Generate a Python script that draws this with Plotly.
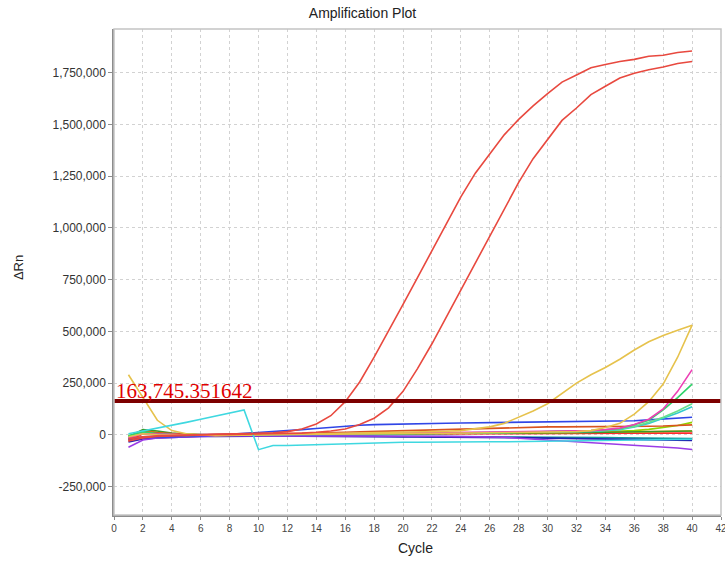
import plotly.graph_objects as go

cycles = list(range(1, 41))

red_a = [-20000, -10000, -5000, -3000, 0, 2000, 3000, 5000, 6000, 7000, 9000, 15000, 28000, 52000, 92000,
         160000, 255000, 375000, 500000, 630000, 760000, 890000, 1015000, 1150000, 1265000, 1360000, 1450000,
         1525000, 1590000, 1650000, 1705000, 1740000, 1775000, 1790000, 1805000, 1815000, 1830000, 1835000,
         1848000, 1856000]
red_b = [-30000, -15000, -8000, -5000, -3000, 0, 1000, 2000, 3000, 4000, 5000, 6000, 8000, 12000, 18000,
         28000, 50000, 80000, 130000, 210000, 320000, 440000, 570000, 700000, 830000, 960000, 1090000,
         1220000, 1335000, 1430000, 1520000, 1580000, 1645000, 1685000, 1725000, 1748000, 1765000, 1778000,
         1795000, 1805000]
yellow_a = [290000, 180000, 70000, 20000, 5000, 0, -4000, -3000, -1000, 1000, 2000, 3000, 4000, 5000, 6000,
            7000, 8000, 9000, 10000, 11000, 13000, 15000, 17000, 20000, 28000, 38000, 55000, 85000, 115000,
            150000, 200000, 250000, 290000, 325000, 365000, 410000, 450000, 480000, 505000, 530000]
yellow_b = [-10000, 5000, 0, -2000, -3000, -2000, -1000, 0, 0, 1000, 1000, 2000, 2000, 3000, 3000, 4000,
            4000, 5000, 5000, 6000, 6000, 7000, 7000, 8000, 8000, 9000, 9000, 10000, 10000, 11000, 12000,
            15000, 20000, 35000, 55000, 100000, 160000, 245000, 375000, 530000]
cyan = [5000, 18000, 32000, 45000, 60000, 75000, 90000, 105000, 120000, -72000, -52000, -52000, -50000,
        -48000, -45000, -42000, -40000, -38000, -37000, -36000, -36000, -35000, -35000, -35000, -34000,
        -34000, -34000, -33000, -33000, -33000, -32000, -31000, -30000, -29000, -28000, -27000, -26000,
        -24000, -23000, -22000]
pink = [-15000, 5000, 3000, 0, 0, 1000, 2000, 2000, 3000, 3000, 4000, 4000, 5000, 5000, 6000, 6000, 7000,
        7000, 8000, 8000, 9000, 9000, 10000, 10000, 11000, 11000, 12000, 12000, 13000, 14000, 15000, 17000,
        20000, 25000, 32000, 50000, 75000, 125000, 210000, 315000]
green_a = [-5000, 15000, 5000, 0, 0, 0, 1000, 1000, 2000, 2000, 3000, 3000, 4000, 4000, 5000, 5000, 6000,
           6000, 7000, 7000, 8000, 8000, 9000, 9000, 10000, 10000, 11000, 12000, 13000, 14000, 15000, 17000,
           20000, 24000, 30000, 48000, 70000, 120000, 180000, 245000]
green_b = [-8000, 10000, 4000, 0, -1000, -1000, 0, 0, 1000, 1000, 2000, 2000, 3000, 3000, 4000, 4000, 5000,
           5000, 6000, 6000, 7000, 7000, 8000, 8000, 9000, 9000, 10000, 10000, 11000, 12000, 13000, 15000,
           18000, 22000, 28000, 40000, 60000, 85000, 115000, 150000]
teal_b = [-12000, 6000, 2000, -1000, -2000, -2000, -1000, -1000, 0, 0, 1000, 1000, 2000, 2000, 3000, 3000,
          4000, 4000, 5000, 5000, 6000, 6000, 7000, 7000, 8000, 8000, 9000, 9000, 10000, 11000, 12000, 14000,
          16000, 20000, 25000, 38000, 55000, 80000, 105000, 135000]
blue = [-20000, -15000, -12000, -10000, -8000, -5000, -2000, 2000, 6000, 10000, 15000, 20000, 25000, 30000,
        36000, 42000, 46000, 49000, 51000, 53000, 54000, 55000, 56000, 57000, 58000, 59000, 60000, 61000,
        61000, 61000, 62000, 62000, 63000, 64000, 66000, 68000, 72000, 76000, 80000, 85000]
orange_red = [-25000, 15000, 10000, 5000, 2000, 0, 0, 1000, 2000, 3000, 4000, 5000, 6000, 8000, 10000, 12000,
              14000, 16000, 18000, 20000, 22000, 24000, 26000, 28000, 30000, 32000, 34000, 36000, 37000,
              38000, 38000, 38000, 39000, 39000, 40000, 40000, 41000, 42000, 44000, 48000]
purple = [-60000, -25000, -15000, -12000, -10000, -8000, -6000, -5000, -5000, -4000, -4000, -4000, -5000,
          -5000, -5000, -5000, -5000, -6000, -6000, -6000, -7000, -7000, -8000, -9000, -10000, -11000,
          -12000, -17000, -21000, -25000, -30000, -36000, -40000, -43000, -46000, -50000, -53000, -58000,
          -64000, -71000]
dark_green = [-10000, 25000, 18000, 8000, 3000, 0, -2000, -2000, -1000, 0, 0, 1000, 1000, 2000, 2000, 3000,
              3000, 4000, 4000, 5000, 5000, 6000, 6000, 7000, 7000, 8000, 8000, 9000, 9000, 10000, 10000,
              11000, 11000, 12000, 12000, 13000, 14000, 15000, 16000, 18000]
navy = [-35000, -20000, -15000, -12000, -10000, -8000, -8000, -7000, -7000, -6000, -6000, -6000, -7000,
        -7000, -8000, -8000, -9000, -9000, -10000, -10000, -11000, -11000, -12000, -12000, -13000, -13000,
        -14000, -14000, -15000, -16000, -17000, -18000, -19000, -20000, -21000, -22000, -23000, -24000,
        -25000, -27000]
orange = [-15000, 20000, 12000, 3000, 0, -2000, -3000, -2000, -1000, 0, 1000, 2000, 3000, 3000, 4000, 4000,
          5000, 5000, 6000, 6000, 7000, 7000, 8000, 8000, 9000, 9000, 10000, 10000, 11000, 11000, 12000,
          12000, 13000, 13000, 14000, 14000, 15000, 16000, 17000, 18000]
teal = [-20000, -10000, -8000, -6000, -5000, -5000, -4000, -4000, -4000, -3000, -3000, -3000, -4000, -4000,
        -5000, -5000, -6000, -6000, -7000, -7000, -8000, -8000, -9000, -9000, -10000, -10000, -11000, -11000,
        -12000, -12000, -13000, -13000, -14000, -14000, -15000, -15000, -16000, -16000, -17000, -18000]
lime = [-5000, 10000, 5000, 2000, 1000, 0, 0, 1000, 1000, 2000, 2000, 3000, 3000, 3000, 4000, 4000, 4000,
        5000, 5000, 5000, 6000, 6000, 6000, 7000, 7000, 7000, 8000, 8000, 9000, 9000, 10000, 11000, 12000,
        14000, 16000, 20000, 26000, 34000, 45000, 60000]
red_c = [-30000, 5000, 5000, 2000, 0, 0, 0, 0, 1000, 1000, 1000, 2000, 2000, 2000, 3000, 3000, 3000, 3000,
         4000, 4000, 4000, 4000, 5000, 5000, 5000, 5000, 5000, 6000, 6000, 6000, 6000, 6000, 7000, 7000,
         7000, 7000, 8000, 8000, 8000, 8000]

threshold = 163745.351642
threshold_label = "163,745.351642"
x_ticks = list(range(0, 43, 2))
y_ticks = [-250000, 0, 250000, 500000, 750000, 1000000, 1250000, 1500000, 1750000]

series = [
    (teal, "#0f9a9a"), (navy, "#2020b0"), (red_c, "#ff2a2a"), (lime, "#8fd400"),
    (orange, "#ff9a00"), (dark_green, "#3a9a2a"), (orange_red, "#d9541e"), (purple, "#9a3ce6"),
    (blue, "#3046e6"), (teal_b, "#33cccc"), (green_b, "#66e08a"), (green_a, "#2fd46a"),
    (pink, "#ec3fb4"), (yellow_b, "#e6c24c"), (yellow_a, "#e6c24c"), (cyan, "#3fd8e0"),
    (red_b, "#e8493f"), (red_a, "#e8493f"),
]

fig = go.Figure()
for vals, col in series:
    fig.add_trace(go.Scatter(x=cycles, y=vals, mode="lines",
                             line=dict(color=col, width=1.6), showlegend=False))

fig.add_shape(type="line", xref="paper", x0=0, x1=1, yref="y", y0=threshold, y1=threshold,
              line=dict(color="#7d0000", width=4), layer="above")
fig.add_shape(type="rect", xref="paper", yref="paper", x0=0, x1=1, y0=0, y1=1,
              line=dict(color="#c4c4c4", width=1.5), layer="above")

fig.add_annotation(x=0, xref="paper", y=threshold, yref="y", text=threshold_label,
                   showarrow=False, xanchor="left", yanchor="bottom", yshift=-4,
                   font=dict(family="Liberation Serif", size=21, color="#e00000"))
fig.add_annotation(x=0, xref="paper", xshift=-96, y=0.508, yref="paper", text="ΔRn", textangle=-90,
                   showarrow=False, xanchor="center", yanchor="middle",
                   font=dict(family="Liberation Sans", size=13, color="#222"))
fig.add_annotation(x=0.496, xref="paper", y=0, yref="paper", yshift=-33, text="Cycle",
                   showarrow=False, xanchor="center", yanchor="middle",
                   font=dict(family="Liberation Sans", size=14, color="#222"))

fig.update_layout(
    width=725, height=562,
    margin=dict(l=114, r=4, t=29, b=47),
    paper_bgcolor="white", plot_bgcolor="white",
    title=dict(text="Amplification Plot", x=0.5, xref="container", y=0.977, yref="container",
               xanchor="center", yanchor="middle",
               font=dict(family="Liberation Sans", size=14, color="#222")),
    showlegend=False,
)
fig.update_xaxes(range=[0, 42], tickvals=x_ticks, ticktext=[str(v) for v in x_ticks],
                 ticklabeloverflow="allow", automargin=False,
                 showgrid=True, gridcolor="#d2d2d2", griddash="dot", gridwidth=1,
                 showline=True, linecolor="#8c8c8c", linewidth=1.5,
                 ticks="outside", ticklen=3, tickcolor="#8c8c8c",
                 tickfont=dict(family="Liberation Sans", size=10, color="#444"), zeroline=False)
fig.update_yaxes(range=[-388000, 1962000], tickvals=y_ticks,
                 ticktext=[f"{v:,}" for v in y_ticks], automargin=False,
                 showgrid=True, gridcolor="#d2d2d2", griddash="dot", gridwidth=1,
                 showline=True, linecolor="#8c8c8c", linewidth=1.5,
                 ticks="outside", ticklen=4, tickcolor="#8c8c8c",
                 tickfont=dict(family="Liberation Sans", size=12, color="#333"), zeroline=False)

fig.write_html("out.html")
